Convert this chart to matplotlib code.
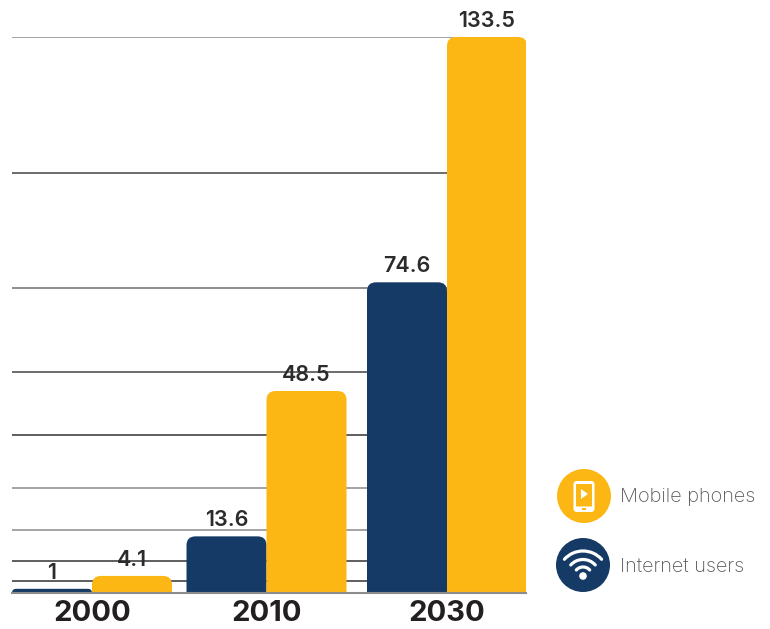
import matplotlib
matplotlib.use('Agg')
import matplotlib.pyplot as plt
from matplotlib.patches import Circle, FancyBboxPatch, PathPatch, Polygon, Arc
from matplotlib.path import Path

# 数据
years = ['2000', '2010', '2030']
internet_users = [1, 13.6, 74.6]
mobile_phones = [4.1, 48.5, 133.5]
grid_levels = [2.8, 7.6, 15.2, 25.2, 37.9, 53, 73.2, 100.8, 133.5]
legend_names = ['Mobile phones', 'Internet users']

# 每根横线的颜色，深浅不一
grid_colors = ['#333333', '#333333', '#8a8a8a', '#8a8a8a', '#333333',
               '#444444', '#6e6e6e', '#444444', '#8a8a8a']

NAVY = '#163a66'
YELLOW = '#fdb714'
FONT = ['Inter', 'DejaVu Sans']

W, H = 770, 629
fig = plt.figure(figsize=(W / 100, H / 100), dpi=100)
plt.rcParams['font.family'] = FONT

# 主坐标轴：x 用像素宽度，方便控制每组柱子的位置
left, right, bottom, top = 12, 526, 593, 37
ax = fig.add_axes([left / W, 1 - bottom / H, (right - left) / W, (bottom - top) / H])
ax.set_xlim(left, right)
ax.set_ylim(0, 133.5)
ax.patch.set_alpha(0)
for s in ['top', 'left', 'right']:
    ax.spines[s].set_visible(False)
ax.spines['bottom'].set_color('#8c8c8c')
ax.spines['bottom'].set_linewidth(1.5)
ax.spines['bottom'].set_zorder(5)

group_pos = [92, 266.5, 447]
bar_w = 80
y_per_px = 133.5 / (bottom - top)


def rounded_bar(x0, x1, h, color, r=9):
    # 只有上面两个角是圆角
    ry = min(r * y_per_px, h)
    rx = r if ry == r * y_per_px else h / y_per_px
    verts = [(x0, 0), (x0, h - ry), (x0, h), (x0 + rx, h), (x1 - rx, h), (x1, h), (x1, h - ry), (x1, 0), (x0, 0)]
    codes = [Path.MOVETO, Path.LINETO, Path.CURVE3, Path.CURVE3, Path.LINETO,
             Path.CURVE3, Path.CURVE3, Path.LINETO, Path.CLOSEPOLY]
    ax.add_patch(PathPatch(Path(verts, codes), fc=color, ec='none', zorder=3))


# 横线（不等距，画到最后一根柱子中间为止）
ax.hlines(grid_levels, left, 500, colors=grid_colors, linewidth=1.1, zorder=1)

for g, a, b in zip(group_pos, internet_users, mobile_phones):
    rounded_bar(g - bar_w, g, a, NAVY)
    rounded_bar(g, g + bar_w, b, YELLOW)
    ax.text(g - bar_w / 2, a + 1.5, str(a), ha='center', va='bottom', fontsize=15.5,
            fontweight='semibold', color='#2b2b2b', zorder=6)
    ax.text(g + bar_w / 2, b + 1.5, str(b), ha='center', va='bottom', fontsize=15.5,
            fontweight='semibold', color='#2b2b2b', zorder=6, clip_on=False)

ax.set_yticks([])
ax.set_xticks(group_pos)
ax.set_xticklabels(years, fontsize=21, fontweight='bold', color='#231f20')
ax.tick_params(axis='x', length=0, pad=5)

# 图例：用像素坐标画图标
lg = fig.add_axes([0, 0, 1, 1])
lg.set_xlim(0, W)
lg.set_ylim(H, 0)
lg.axis('off')
lg.patch.set_alpha(0)

phone_c = (584, 496)
wifi_c = (583, 565)
lg.add_patch(Circle(phone_c, 27, fc=YELLOW, ec='none'))
lg.add_patch(Circle(wifi_c, 27, fc=NAVY, ec='none'))

# 手机图标
lg.add_patch(FancyBboxPatch((573.5, 481), 21, 31, boxstyle='round,pad=0,rounding_size=3.5',
                            fc='white', ec='none'))
lg.add_patch(FancyBboxPatch((576, 484), 16, 22.5, boxstyle='round,pad=0,rounding_size=0.5',
                            fc=YELLOW, ec='none'))
lg.add_patch(Polygon([(581, 489), (581, 499), (588, 494)], fc='white', ec='none'))
lg.add_patch(FancyBboxPatch((582, 508), 4, 2, boxstyle='round,pad=0,rounding_size=0.3',
                            fc=YELLOW, ec='none'))

# wifi 图标
cx, cy = wifi_c
lg.add_patch(Circle((cx, cy + 11), 3.8, fc='white', ec='none'))
for d in [18, 33, 50]:
    lg.add_patch(Arc((cx, cy + 11), d, d, theta1=222, theta2=318, color='white', lw=2.3, capstyle='round'))

for name, c in zip(legend_names, [phone_c, wifi_c]):
    lg.text(620, c[1] + 1.5, name, ha='left', va='center', fontsize=14.4, fontweight='light', color='#58595b')

fig.savefig('out.png', dpi=100)
